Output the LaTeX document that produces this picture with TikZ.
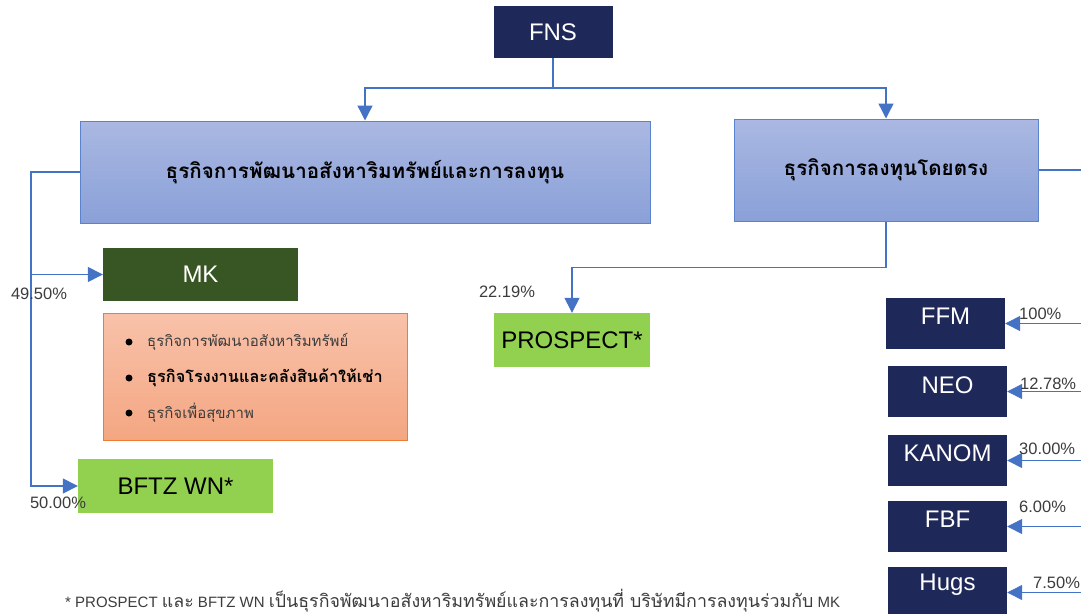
\documentclass[tikz,border=0pt]{standalone}
\usepackage{fontspec}
\setmainfont{Liberation Sans}
\newfontfamily\thaifont[Script=Thai]{Loma}
\usetikzlibrary{arrows.meta,calc}
\definecolor{navy}{RGB}{31,41,89}
\definecolor{connc}{RGB}{68,114,196}
\definecolor{btop}{RGB}{170,184,226}
\definecolor{bbot}{RGB}{138,160,216}
\definecolor{bborder}{RGB}{90,130,205}
\definecolor{mkgreen}{RGB}{56,86,35}
\definecolor{lgreen}{RGB}{146,208,80}
\definecolor{otop}{RGB}{248,194,170}
\definecolor{obot}{RGB}{244,166,130}
\definecolor{oborder}{RGB}{237,125,49}
\definecolor{lbl}{RGB}{60,60,60}
\begin{document}
\begin{tikzpicture}[x=1pt,y=-1pt,
  navybox/.style={fill=navy, draw=none, minimum width=119pt, minimum height=51pt, inner sep=0pt, text=white, font=\fontsize{24}{28}\selectfont},
  bluebox/.style={top color=btop, bottom color=bbot, draw=bborder, line width=1pt, minimum height=102pt, inner sep=0pt, font=\thaifont\bfseries\fontsize{20.6}{24}\selectfont},
  greenbox/.style={fill=lgreen, draw=none, inner sep=0pt, font=\fontsize{24}{28}\selectfont},
  boxtext/.style={text=white, font=\fontsize{24}{28}\selectfont, inner sep=0pt},
  pct/.style={text=lbl, font=\fontsize{16.5}{19}\selectfont, inner sep=0pt},
  conn/.style={draw=connc, line width=1.4pt},
  arr/.style={conn, -{Triangle[length=15pt,width=15pt]}},
  bullettext/.style={anchor=west, inner sep=0pt, font=\thaifont\fontsize{15}{18}\selectfont},
  bulletdot/.style={circle, fill=black, inner sep=0pt, minimum size=7pt}
]
\useasboundingbox (0,0) rectangle (1081,613);
\clip (0,0) rectangle (1081,613);

% top
\node[navybox, minimum height=52pt] (fns) at (553,32) {FNS};
\node[bluebox, minimum width=570pt] (dev) at (365,172) {ธุรกิจการพัฒนาอสังหาริมทรัพย์และการลงทุน};
\node[bluebox, minimum width=304pt] (dir) at (886,170) {ธุรกิจการลงทุนโดยตรง};

\coordinate (jn) at (553,88);
\draw[conn] (fns.south) -- (jn);
\draw[arr] (jn) -| (dev.north);
\draw[arr] (jn) -| (dir.north);

% left branch
\node[fill=mkgreen, minimum width=195pt, minimum height=53pt, inner sep=0pt, text=white, font=\fontsize{24}{28}\selectfont] (mk) at (200.5,274.5) {MK};
\node[top color=otop, bottom color=obot, draw=oborder, line width=1pt, minimum width=304pt, minimum height=127pt, inner sep=0pt] (mkinfo) at (255,376.5) {};
\node[greenbox, minimum width=195pt, minimum height=54pt] (bftz) at (175.5,486) {BFTZ WN*};

\coordinate (lt) at (31,274.5);
\draw[arr] (dev.west) -| (lt) -- (mk.west);
\draw[arr] (lt) |- (bftz.west);

\node[pct] (p1) at (39,294) {49.50\%};
\node[pct] (p2) at (58,503) {50.00\%};

\node[bulletdot] (b1) at (129,342) {};
\node[bulletdot] (b2) at (129,378) {};
\node[bulletdot] (b3) at (129,413) {};
\node[bullettext, text=lbl] (t1) at (147,342) {ธุรกิจการพัฒนาอสังหาริมทรัพย์};
\node[bullettext, font=\thaifont\bfseries\fontsize{16.3}{19}\selectfont] (t2) at (147,378) {ธุรกิจโรงงานและคลังสินค้าให้เช่า};
\node[bullettext, text=lbl] (t3) at (147,413) {ธุรกิจเพื่อสุขภาพ};

% middle branch
\node[greenbox, minimum width=156pt, minimum height=54pt] (prosp) at (572,340) {PROSPECT*};
\draw[arr] (dir.south) -- ++(0,46) -| (prosp.north);
\node[pct] (p3) at (507,292) {22.19\%};

% right branch
\coordinate (re) at (1081,170);
\draw[conn] (dir.east) -- (re);

\node[navybox] (ffm) at (945.5,323.5) {};
\node[navybox] (neo) at (947.5,391.5) {};
\node[navybox] (kanom) at (947.5,460.5) {};
\node[navybox] (fbf) at (947.5,526.5) {};
\node[navybox] (hugs) at (947.5,592.5) {};

\node[boxtext] at ($(ffm.north)+(0,18)$) {FFM};
\node[boxtext] at ($(neo.north)+(0,19)$) {NEO};
\node[boxtext] at ($(kanom.north)+(0,18)$) {KANOM};
\node[boxtext] at ($(fbf.north)+(0,18)$) {FBF};
\node[boxtext] at ($(hugs.north)+(0,18)$) {Hugs};

\coordinate (e1) at (1081,323.5);
\coordinate (e2) at (1081,391.5);
\coordinate (e3) at (1081,460.5);
\coordinate (e4) at (1081,526.5);
\coordinate (e5) at (1081,592.5);
\draw[arr] (e1) -- (ffm.east);
\draw[arr] (e2) -- (neo.east);
\draw[arr] (e3) -- (kanom.east);
\draw[arr] (e4) -- (fbf.east);
\draw[arr] (e5) -- (hugs.east);

\node[pct, anchor=west] (q1) at (1019,314) {100\%};
\node[pct, anchor=west] (q2) at (1020,384) {12.78\%};
\node[pct, anchor=west] (q3) at (1019,449) {30.00\%};
\node[pct, anchor=west] (q4) at (1019,507) {6.00\%};
\node[pct, anchor=west] (q5) at (1033,583) {7.50\%};

% footnote
\node[anchor=base west, inner sep=0pt, text=lbl, font=\fontsize{15}{16}\selectfont] (fn) at (65,607) {* PROSPECT {\thaifont\fontsize{17.8}{18}\selectfont และ} BFTZ WN {\thaifont\fontsize{17.8}{18}\selectfont เป็นธุรกิจพัฒนาอสังหาริมทรัพย์และการลงทุนที่ บริษัทมีการลงทุนร่วมกับ} MK};
\end{tikzpicture}
\end{document}
